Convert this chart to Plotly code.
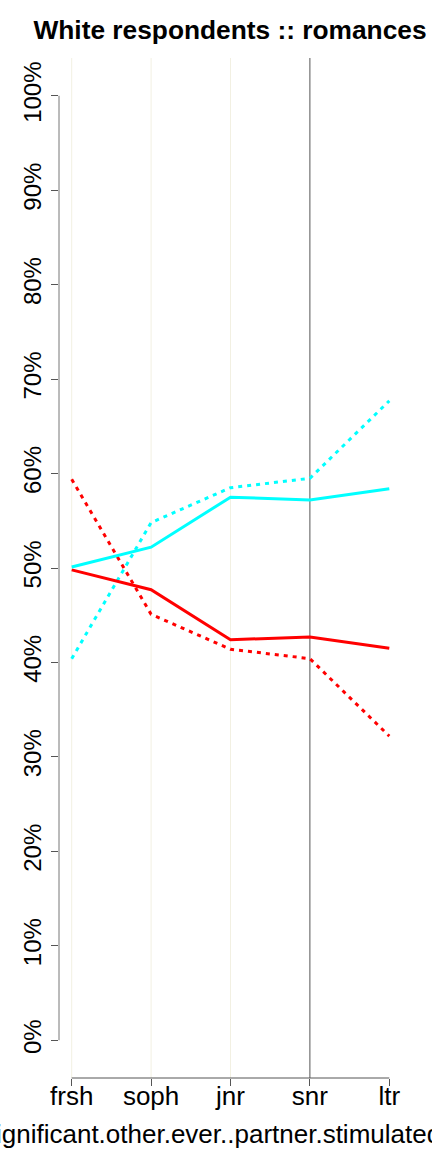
import plotly.graph_objects as go

categories = ["frsh", "soph", "jnr", "snr", "ltr"]
red_solid = [49.8, 47.7, 42.4, 42.7, 41.5]
red_dotted = [59.4, 45.1, 41.4, 40.4, 32.2]
cyan_solid = [50.1, 52.2, 57.5, 57.2, 58.4]
cyan_dotted = [40.4, 54.8, 58.5, 59.5, 67.7]
y_ticks = [0, 10, 20, 30, 40, 50, 60, 70, 80, 90, 100]
y_tick_labels = [f"{v}%" for v in y_ticks]
title_text = "White respondents :: romances"
x_title_text = "significant.other.ever..partner.stimulated"

xs = list(range(len(categories)))
FONT = "Liberation Sans, Arial, sans-serif"

fig = go.Figure()
for vals, color, dash in [
    (red_dotted, "#FF0000", "4px,5px"),
    (cyan_dotted, "#00FFFF", "4px,5px"),
    (red_solid, "#FF0000", "solid"),
    (cyan_solid, "#00FFFF", "solid"),
]:
    fig.add_trace(go.Scatter(x=xs, y=vals, mode="lines",
                             line=dict(color=color, width=3, dash=dash),
                             showlegend=False, hoverinfo="skip"))

shapes = []
grid_colors = ["#F2F0E2", "#F2F0E2", "#F2F0E2", "#555555"]
for i, c in enumerate(grid_colors):
    shapes.append(dict(type="line", xref="x", yref="paper", x0=i, x1=i, y0=0, y1=1,
                       line=dict(color=c, width=1), layer="below"))
# axis lines spanning tick range only
shapes.append(dict(type="line", xref="x", yref="paper", x0=0, x1=len(categories) - 1,
                   y0=0, y1=0, line=dict(color="#555555", width=1)))
shapes.append(dict(type="line", xref="paper", yref="y", x0=0, x1=0, y0=0, y1=100,
                   line=dict(color="#777777", width=1)))

fig.update_layout(
    width=432, height=1152,
    margin=dict(l=59, r=30, t=58, b=74, autoexpand=False),
    paper_bgcolor="white", plot_bgcolor="white",
    shapes=shapes,
    title=dict(text=f"<b>{title_text}</b>", x=(230 - 59) / 343, xref="paper", xanchor="center",
               y=1 - 30 / 1152, yref="container", yanchor="middle",
               font=dict(family=FONT, size=26.3, color="black")),
    xaxis=dict(range=[-0.16, 4.16], tickvals=xs, ticktext=categories,
               showgrid=False, zeroline=False, showline=False, automargin=False,
               ticks="outside", ticklen=7, tickcolor="#555555", ticklabelstandoff=-12,
               tickfont=dict(family=FONT, size=26, color="black")),
    yaxis=dict(range=[-4, 104], tickvals=y_ticks, ticktext=y_tick_labels,
               showgrid=False, zeroline=False, showline=False, automargin=False,
               ticks="outside", ticklen=7, tickcolor="#555555", tickangle=-90,
               tickfont=dict(family=FONT, size=24, color="black")),
    annotations=[dict(text=x_title_text, xref="paper", yref="paper",
                      x=(-19 - 59) / 343, y=(1078 - 1134) / 1020,
                      xanchor="left", yanchor="middle", showarrow=False,
                      font=dict(family=FONT, size=26, color="black"))],
)

fig.write_html("out.html", config={"displayModeBar": False},
               post_script="document.body.style.margin='0';document.body.style.overflow='hidden';")
